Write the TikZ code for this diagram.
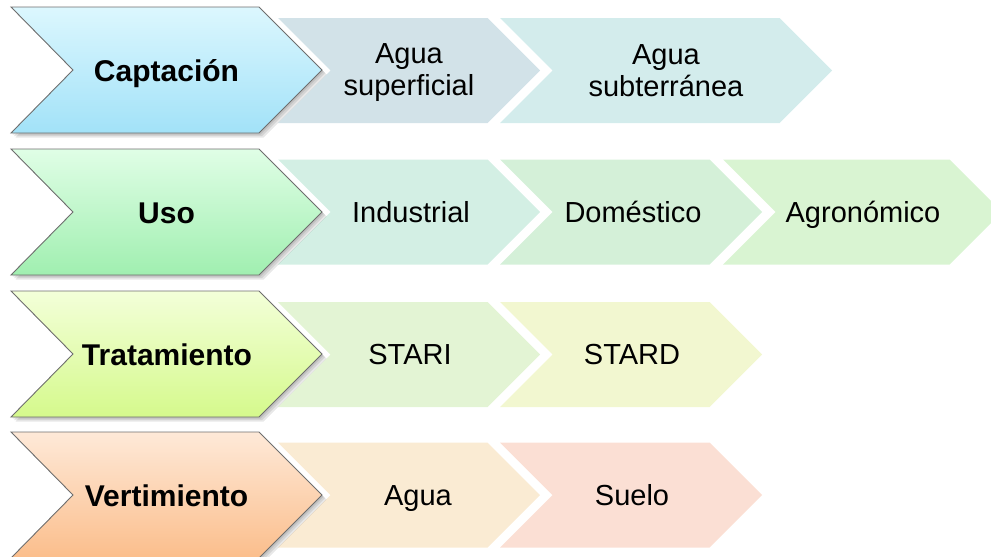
\documentclass[tikz,border=0pt]{standalone}
\usepackage{fontspec}
\setmainfont{Liberation Sans}
\definecolor{outl}{HTML}{6E6E6E}
\definecolor{capT}{HTML}{DCF7FE}\definecolor{capB}{HTML}{A2E2F8}
\definecolor{usoT}{HTML}{E0FEE6}\definecolor{usoB}{HTML}{A0EFB0}
\definecolor{traT}{HTML}{F3FFD9}\definecolor{traB}{HTML}{D5F98C}
\definecolor{verT}{HTML}{FEE9D8}\definecolor{verB}{HTML}{FBBE8C}
\definecolor{cSup}{HTML}{D2E2E8}\definecolor{cSub}{HTML}{D3ECEC}
\definecolor{cInd}{HTML}{D3EFE4}\definecolor{cDom}{HTML}{D4F0D8}
\definecolor{cAgr}{HTML}{D9F4D2}\definecolor{cSti}{HTML}{E3F4D4}
\definecolor{cStd}{HTML}{F2F7D0}\definecolor{cAgu}{HTML}{FAEBD3}
\definecolor{cSue}{HTML}{FBDFD4}
\newcommand\smallchev[4]{% colour, left, tip, centre y
  \fill[#1] (#2,{#4-52.5}) -- ({#3-52.5},{#4-52.5}) -- (#3,#4) -- ({#3-52.5},{#4+52.5}) -- (#2,{#4+52.5}) -- ({#2+52.5},#4) -- cycle;}
\newcommand\bigchev[3]{% top colour, bottom colour, centre y
  \foreach \o in {1.5,3,4.5}{%
    \fill[black,opacity=0.09] ({11+\o},{#3-63+\o}) -- ({259+\o},{#3-63+\o}) -- ({322+\o},{#3+\o}) -- ({259+\o},{#3+63+\o}) -- ({11+\o},{#3+63+\o}) -- ({73+\o},{#3+\o}) -- cycle;}
  \draw[draw=outl,line width=0.9pt,top color=#1,bottom color=#2] (11,{#3-63}) -- (259,{#3-63}) -- (322,#3) -- (259,{#3+63}) -- (11,{#3+63}) -- (73,#3) -- cycle;}
\tikzset{
  bigtxt/.style={anchor=base,font=\fontsize{30}{32}\selectfont\bfseries,inner sep=0pt},
  smtxt/.style={anchor=base,font=\fontsize{29}{32}\selectfont,inner sep=0pt},
  twotxt/.style={anchor=center,align=center,font=\fontsize{29}{32}\selectfont,inner sep=0pt}
}
\begin{document}
\begin{tikzpicture}[x=1pt,y=-1pt]
\useasboundingbox (0,0) rectangle (991,557);
\begin{scope}
\clip (0,0) rectangle (991,557);
% row 1
\smallchev{cSup}{278}{540}{70.5}
\smallchev{cSub}{500}{832}{70.5}
\bigchev{capT}{capB}{70}
% row 2
\smallchev{cInd}{278}{540}{212}
\smallchev{cDom}{500}{762}{212}
\smallchev{cAgr}{723}{1002}{212}
\bigchev{usoT}{usoB}{212}
% row 3
\smallchev{cSti}{278}{540}{354.5}
\smallchev{cStd}{500}{762}{354.5}
\bigchev{traT}{traB}{354}
% row 4
\smallchev{cAgu}{278}{540}{495}
\smallchev{cSue}{500}{762}{495}
\bigchev{verT}{verB}{495}
\end{scope}
% labels
\node[bigtxt] (capt) at (166.5,81) {Captación};
\node[bigtxt] (uso) at (166.5,223) {Uso};
\node[bigtxt] (trat) at (167,365) {Tratamiento};
\node[bigtxt] (vert) at (166.5,506) {Vertimiento};
\node[twotxt] (sup) at (409,72.5) {Agua\\superficial};
\node[twotxt] (sub) at (666,70.5) {Agua\\subterránea};
\node[smtxt] (ind) at (411,222) {Industrial};
\node[smtxt] (dom) at (633,222) {Doméstico};
\node[smtxt] (agr) at (863,222) {Agronómico};
\node[smtxt] (sti) at (410,364.5) {STARI};
\node[smtxt] (std) at (632,364.5) {STARD};
\node[smtxt] (agu) at (418,505.5) {Agua};
\node[smtxt] (sue) at (632,505.5) {Suelo};
\end{tikzpicture}
\end{document}
